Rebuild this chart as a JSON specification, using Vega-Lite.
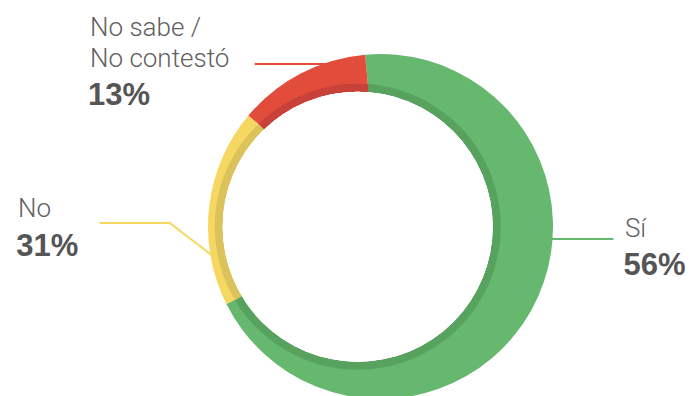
{
  "$schema": "https://vega.github.io/schema/vega-lite/v6.json",
  "width": 625,
  "height": 339,
  "autosize": {"type": "none"},
  "padding": {"left": 68, "top": 57, "right": 0, "bottom": 0},
  "background": "white",
  "view": {"stroke": null},
  "data": {
    "values": [
      {"respuesta": "Sí", "etiqueta": "Sí", "share": 0.56},
      {"respuesta": "No", "etiqueta": "No", "share": 0.31},
      {"respuesta": "No sabe / No contestó", "etiqueta": "No sabe /\nNo contestó", "share": 0.13}
    ]
  },
  "resolve": {"scale": {"theta": "independent", "color": "independent"}},
  "layer": [
    {
      "mark": {"type": "text", "radius": 200, "font": "DejaVu Sans Mono", "fontSize": 23.25, "baseline": "middle", "align": "left", "dx": -33, "dy": 15.8, "color": "#e24c3a"},
      "encoding": {
        "theta": {"field": "share", "type": "quantitative", "stack": true, "scale": {"domain": [0, 0.56, 0.87, 1], "range": [-0.089, 4.2464, 5.4105, 6.1942]}},
        "order": {"field": "share", "sort": "descending"},
        "text": {"condition": {"test": "datum.respuesta === 'No sabe / No contestó'", "value": "──────"}, "value": ""}
      }
    },
    {
      "mark": {"type": "text", "radius": 200, "font": "DejaVu Sans Mono", "fontSize": 23.25, "baseline": "middle", "align": "left", "dx": -81.8, "dy": 20.7, "color": "#f6d762"},
      "encoding": {
        "theta": {"field": "share", "type": "quantitative", "stack": true, "scale": {"domain": [0, 0.56, 0.87, 1], "range": [-0.089, 4.2464, 5.4105, 6.1942]}},
        "order": {"field": "share", "sort": "descending"},
        "text": {"condition": {"test": "datum.respuesta === 'No'", "value": "─────"}, "value": ""}
      }
    },
    {
      "mark": {"type": "text", "radius": 200, "font": "DejaVu Sans Mono", "fontSize": 23.25, "baseline": "middle", "align": "left", "angle": 37.6, "dx": 1.5, "dy": 23.8, "color": "#f6d762"},
      "encoding": {
        "theta": {"field": "share", "type": "quantitative", "stack": true, "scale": {"domain": [0, 0.56, 0.87, 1], "range": [-0.089, 4.2464, 5.4105, 6.1942]}},
        "order": {"field": "share", "sort": "descending"},
        "text": {"condition": {"test": "datum.respuesta === 'No'", "value": "────"}, "value": ""}
      }
    },
    {
      "mark": {"type": "text", "radius": 200, "font": "DejaVu Sans Mono", "fontSize": 23.25, "baseline": "middle", "align": "right", "dx": 57.7, "dy": -83.3, "color": "#65b86d"},
      "encoding": {
        "theta": {"field": "share", "type": "quantitative", "stack": true, "scale": {"domain": [0, 0.56, 0.87, 1], "range": [-0.089, 4.2464, 5.4105, 6.1942]}},
        "order": {"field": "share", "sort": "descending"},
        "text": {"condition": {"test": "datum.respuesta === 'Sí'", "value": "─────"}, "value": ""}
      }
    },
    {
      "mark": {"type": "arc", "outerRadius": 172.5, "innerRadius": 0},
      "encoding": {
        "theta": {"field": "share", "type": "quantitative", "stack": true, "scale": {"domain": [0, 0.56, 0.87, 1], "range": [-0.089, 4.2464, 5.4105, 6.1942]}},
        "order": {"field": "share", "sort": "descending"},
        "color": {"field": "respuesta", "type": "nominal", "legend": null, "scale": {"domain": ["Sí", "No", "No sabe / No contestó"], "range": ["#65b86d", "#f6d762", "#e24c3a"]}}
      }
    },
    {
      "mark": {"type": "arc", "outerRadius": 143, "innerRadius": 0, "xOffset": -22.8, "yOffset": 0.2},
      "encoding": {
        "theta": {"field": "share", "type": "quantitative", "stack": true, "scale": {"domain": [0, 0.56, 0.87, 1], "range": [0.075, 4.1731, 5.517, 6.3582]}},
        "order": {"field": "share", "sort": "descending"},
        "color": {"field": "respuesta", "type": "nominal", "legend": null, "scale": {"domain": ["Sí", "No", "No sabe / No contestó"], "range": ["#58a25f", "#dbc25b", "#c8423a"]}}
      }
    },
    {
      "mark": {"type": "arc", "outerRadius": 135, "innerRadius": 0, "theta": 0, "theta2": 6.2832, "fill": "white", "xOffset": -22.8, "yOffset": 0.2},
      "encoding": {}
    },
    {
      "mark": {"type": "text", "radius": 200, "font": "Roboto", "fontWeight": 300, "fontSize": 26, "lineHeight": 31, "lineBreak": "\n", "baseline": "alphabetic", "align": "left", "dx": -198, "dy": -13.5, "color": "#5f5f5f"},
      "encoding": {
        "theta": {"field": "share", "type": "quantitative", "stack": true, "scale": {"domain": [0, 0.56, 0.87, 1], "range": [-0.089, 4.2464, 5.4105, 6.1942]}},
        "order": {"field": "share", "sort": "descending"},
        "text": {"condition": {"test": "datum.respuesta === 'No sabe / No contestó'", "field": "etiqueta"}, "value": ""}
      }
    },
    {
      "mark": {"type": "text", "radius": 200, "font": "Liberation Sans", "fontWeight": "bold", "fontSize": 31, "baseline": "alphabetic", "align": "left", "dx": -200, "dy": 56, "color": "#555555"},
      "encoding": {
        "theta": {"field": "share", "type": "quantitative", "stack": true, "scale": {"domain": [0, 0.56, 0.87, 1], "range": [-0.089, 4.2464, 5.4105, 6.1942]}},
        "order": {"field": "share", "sort": "descending"},
        "text": {"condition": {"test": "datum.respuesta === 'No sabe / No contestó'", "field": "share", "format": ".0%"}, "value": ""}
      }
    },
    {
      "mark": {"type": "text", "radius": 200, "font": "Roboto", "fontWeight": 300, "fontSize": 26, "baseline": "alphabetic", "align": "left", "dx": -163.8, "dy": 13.7, "color": "#5f5f5f"},
      "encoding": {
        "theta": {"field": "share", "type": "quantitative", "stack": true, "scale": {"domain": [0, 0.56, 0.87, 1], "range": [-0.089, 4.2464, 5.4105, 6.1942]}},
        "order": {"field": "share", "sort": "descending"},
        "text": {"condition": {"test": "datum.respuesta === 'No'", "field": "etiqueta"}, "value": ""}
      }
    },
    {
      "mark": {"type": "text", "radius": 200, "font": "Liberation Sans", "fontWeight": "bold", "fontSize": 31, "baseline": "alphabetic", "align": "left", "dx": -165.5, "dy": 53, "color": "#555555"},
      "encoding": {
        "theta": {"field": "share", "type": "quantitative", "stack": true, "scale": {"domain": [0, 0.56, 0.87, 1], "range": [-0.089, 4.2464, 5.4105, 6.1942]}},
        "order": {"field": "share", "sort": "descending"},
        "text": {"condition": {"test": "datum.respuesta === 'No'", "field": "share", "format": ".0%"}, "value": ""}
      }
    },
    {
      "mark": {"type": "text", "radius": 200, "font": "Roboto", "fontWeight": 300, "fontSize": 26, "baseline": "alphabetic", "align": "left", "dx": 69.7, "dy": -86.3, "color": "#5f5f5f"},
      "encoding": {
        "theta": {"field": "share", "type": "quantitative", "stack": true, "scale": {"domain": [0, 0.56, 0.87, 1], "range": [-0.089, 4.2464, 5.4105, 6.1942]}},
        "order": {"field": "share", "sort": "descending"},
        "text": {"condition": {"test": "datum.respuesta === 'Sí'", "field": "etiqueta"}, "value": ""}
      }
    },
    {
      "mark": {"type": "text", "radius": 200, "font": "Liberation Sans", "fontWeight": "bold", "fontSize": 31, "baseline": "alphabetic", "align": "left", "dx": 68.2, "dy": -48.6, "color": "#555555"},
      "encoding": {
        "theta": {"field": "share", "type": "quantitative", "stack": true, "scale": {"domain": [0, 0.56, 0.87, 1], "range": [-0.089, 4.2464, 5.4105, 6.1942]}},
        "order": {"field": "share", "sort": "descending"},
        "text": {"condition": {"test": "datum.respuesta === 'Sí'", "field": "share", "format": ".0%"}, "value": ""}
      }
    }
  ]
}
